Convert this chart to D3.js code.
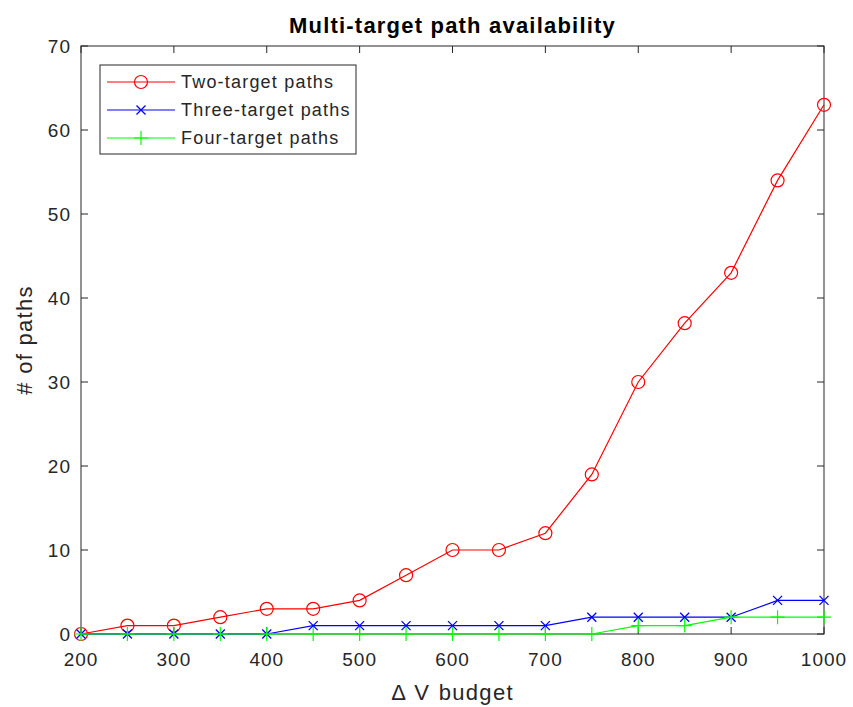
<!DOCTYPE html>
<html>
<head>
<meta charset="utf-8">
<script src="https://cdn.jsdelivr.net/npm/d3@7"></script>
<style>
  body { margin: 0; background: #fff; }
  svg { font-family: Helvetica, Arial, "Liberation Sans", sans-serif; }
</style>
</head>
<body>
<div id="chart"></div>
<script>
const budgets = [200, 250, 300, 350, 400, 450, 500, 550, 600, 650, 700, 750, 800, 850, 900, 950, 1000];
const twoTarget = [0, 1, 1, 2, 3, 3, 4, 7, 10, 10, 12, 19, 30, 37, 43, 54, 63];
const threeTarget = [0, 0, 0, 0, 0, 1, 1, 1, 1, 1, 1, 2, 2, 2, 2, 4, 4];
const fourTarget = [0, 0, 0, 0, 0, 0, 0, 0, 0, 0, 0, 0, 1, 1, 2, 2, 2];
const xTicks = [200, 300, 400, 500, 600, 700, 800, 900, 1000];
const yTicks = [0, 10, 20, 30, 40, 50, 60, 70];

const series = [
  { name: 'Two-target paths', values: twoTarget, color: '#ff0000', marker: 'circle' },
  { name: 'Three-target paths', values: threeTarget, color: '#0000ff', marker: 'x' },
  { name: 'Four-target paths', values: fourTarget, color: '#00ff00', marker: 'plus' }
];

const W = 853, H = 707;
const margin = { top: 46, right: 29, bottom: 73, left: 81 };
const width = W - margin.left - margin.right;
const height = H - margin.top - margin.bottom;
const axisColor = '#262626';

const svg = d3.select('#chart').append('svg')
  .attr('width', W)
  .attr('height', H);

const g = svg.append('g')
  .attr('transform', `translate(${margin.left},${margin.top})`);

const x = d3.scaleLinear().domain([200, 1000]).range([0, width]);
const y = d3.scaleLinear().domain([0, 70]).range([height, 0]);

// box
g.append('rect')
  .attr('width', width).attr('height', height)
  .attr('fill', 'none').attr('stroke', axisColor).attr('stroke-width', 1);

// ticks inward, on all four sides
const tickLen = 7;
xTicks.forEach(t => {
  g.append('line').attr('x1', x(t)).attr('x2', x(t)).attr('y1', height).attr('y2', height - tickLen)
    .attr('stroke', axisColor);
  g.append('line').attr('x1', x(t)).attr('x2', x(t)).attr('y1', 0).attr('y2', tickLen)
    .attr('stroke', axisColor);
  g.append('text').attr('x', x(t)).attr('y', height + 32)
    .attr('text-anchor', 'middle').attr('font-size', 19).attr('letter-spacing', 1)
    .attr('fill', axisColor).text(t);
});
yTicks.forEach(t => {
  g.append('line').attr('x1', 0).attr('x2', tickLen).attr('y1', y(t)).attr('y2', y(t))
    .attr('stroke', axisColor);
  g.append('line').attr('x1', width).attr('x2', width - tickLen).attr('y1', y(t)).attr('y2', y(t))
    .attr('stroke', axisColor);
  g.append('text').attr('x', -10).attr('y', y(t)).attr('dy', '0.35em')
    .attr('text-anchor', 'end').attr('font-size', 19).attr('letter-spacing', 1)
    .attr('fill', axisColor).text(t);
});

// labels
svg.append('text').attr('x', margin.left + width / 2).attr('y', 33)
  .attr('text-anchor', 'middle').attr('font-size', 22).attr('font-weight', 'bold')
  .attr('letter-spacing', 1.2).attr('fill', '#000').text('Multi-target path availability');
svg.append('text').attr('x', margin.left + width / 2).attr('y', 700)
  .attr('text-anchor', 'middle').attr('font-size', 22).attr('letter-spacing', 1.3)
  .attr('word-spacing', 1).attr('fill', axisColor).text('Δ V budget');
svg.append('text')
  .attr('transform', `translate(32,${margin.top + height / 2}) rotate(-90)`)
  .attr('text-anchor', 'middle').attr('font-size', 22).attr('letter-spacing', 1.3)
  .attr('fill', axisColor).text('# of paths');

function drawMarker(sel, type, color, cx, cy) {
  if (type === 'circle') {
    sel.append('circle').attr('cx', cx).attr('cy', cy).attr('r', 6.5)
      .attr('fill', 'none').attr('stroke', color).attr('stroke-width', 1.2);
  } else if (type === 'x') {
    const s = 4.5;
    sel.append('path').attr('d', `M${cx - s},${cy - s}L${cx + s},${cy + s}M${cx - s},${cy + s}L${cx + s},${cy - s}`)
      .attr('stroke', color).attr('stroke-width', 1.3);
  } else {
    const s = 7;
    sel.append('path').attr('d', `M${cx - s},${cy}L${cx + s},${cy}M${cx},${cy - s}L${cx},${cy + s}`)
      .attr('stroke', color).attr('stroke-width', 1.2);
  }
}

const line = d3.line().x(d => x(d[0])).y(d => y(d[1]));

series.forEach(s => {
  const pts = budgets.map((b, i) => [b, s.values[i]]);
  g.append('path').datum(pts).attr('d', line)
    .attr('fill', 'none').attr('stroke', s.color).attr('stroke-width', 1.2);
  const mg = g.append('g');
  pts.forEach(p => drawMarker(mg, s.marker, s.color, x(p[0]), y(p[1])));
});

// legend
const lg = svg.append('g').attr('transform', 'translate(100,65)');
lg.append('rect').attr('width', 256).attr('height', 89)
  .attr('fill', '#fff').attr('stroke', axisColor).attr('stroke-width', 1);
series.forEach((s, i) => {
  const cy = 17 + i * 28;
  lg.append('line').attr('x1', 7).attr('x2', 75).attr('y1', cy).attr('y2', cy)
    .attr('stroke', s.color).attr('stroke-width', 1.2);
  drawMarker(lg, s.marker, s.color, 41, cy);
  lg.append('text').attr('x', 81).attr('y', cy).attr('dy', '0.35em')
    .attr('font-size', 18).attr('letter-spacing', 1.2).attr('fill', axisColor).text(s.name);
});
</script>
</body>
</html>
